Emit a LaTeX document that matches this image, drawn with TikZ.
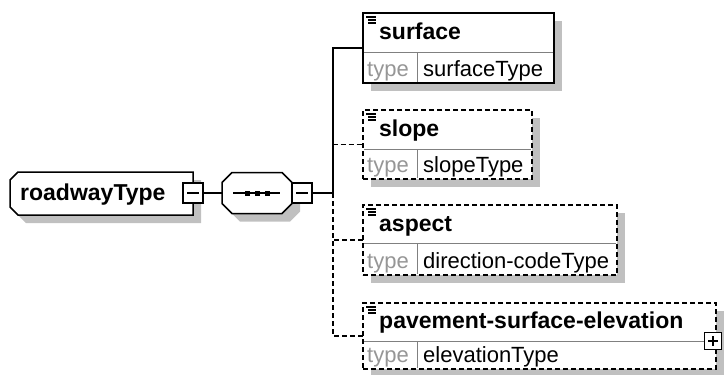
\documentclass[tikz,border=0pt]{standalone}
\usepackage{fontspec}
\setmainfont{Liberation Sans}
\usetikzlibrary{shadows,positioning}
\definecolor{shadowgray}{RGB}{192,192,192}
\definecolor{rulegray}{RGB}{128,128,128}
\definecolor{typegray}{RGB}{150,150,150}

\begin{document}
\begin{tikzpicture}[x=1pt, y=-1pt,
    boxshadow/.style={drop shadow={shadow xshift=8pt, shadow yshift=-8pt, fill=shadowgray, opacity=1}},
    elbox/.style={draw, fill=white, line width=1.5pt, inner sep=0pt, outer sep=0pt, anchor=north west, boxshadow},
    frame/.style={draw, fill=white, line width=1.5pt, boxshadow},
    anchorbox/.style={inner sep=0pt, outer sep=0pt},
    optional/.style={dash pattern=on 5pt off 3pt},
    rowline/.style={draw=rulegray, line width=1pt},
    elicon/.style={line width=1.2pt},
    elname/.style={font=\fontsize{23}{26}\selectfont\bfseries, inner sep=0pt, anchor=base west},
    typekey/.style={font=\fontsize{22}{26}\selectfont, text=typegray, inner sep=0pt, anchor=base west},
    typeval/.style={font=\fontsize{22}{26}\selectfont, inner sep=0pt, anchor=base west},
    expander/.style={draw, fill=white, line width=1.5pt, minimum size=20pt, inner sep=0pt, outer sep=0pt},
    conn/.style={line width=1.5pt}]
    \useasboundingbox (0,0) rectangle (724,375);

    % Complex type roadwayType
    \node[anchorbox, minimum width=183pt, minimum height=43pt] (rtype) at (101.5,193.5) {};
    \draw[frame] (rtype.north east) -- ([xshift=8pt]rtype.north west) -- ([yshift=-8pt]rtype.north west)
        -- ([yshift=8pt]rtype.south west) -- ([xshift=8pt]rtype.south west) -- (rtype.south east) -- cycle;
    \node[elname] (rtypename) at (20,200) {roadwayType};
    \node[expander] (rtminus) at (193,193) {};
    \draw[conn] ([xshift=-6pt]rtminus.center) -- ([xshift=6pt]rtminus.center);

    % Sequence compositor
    \node[anchorbox, minimum width=70pt, minimum height=41pt] (seq) at (257,193) {};
    \draw[frame] ([xshift=-10pt]seq.north east) -- ([xshift=10pt]seq.north west) -- ([yshift=-10pt]seq.north west)
        -- ([yshift=10pt]seq.south west) -- ([xshift=10pt]seq.south west) -- ([xshift=-10pt]seq.south east)
        -- ([yshift=10pt]seq.south east) -- ([yshift=-10pt]seq.north east) -- cycle;
    \draw[conn] ([xshift=-24pt]seq.center) -- ([xshift=23pt]seq.center);
    \foreach \dx in {-10,0,10}
        \fill ([xshift=\dx pt]seq.center) +(-2.5,-2.5) rectangle +(2.5,2.5);
    \node[expander] (seqminus) at (302,193) {};
    \draw[conn] ([xshift=-6pt]seqminus.center) -- ([xshift=6pt]seqminus.center);
    \coordinate (fork) at (333,193);

    % surface
    \node[elbox, minimum width=191pt, minimum height=70pt] (surface) at (363,13) {};
    \draw[rowline] (364,52) -- (553,52) (417,52) -- (417,82);
    \draw[elicon] (366,17) -- +(10,0) (368,20) -- +(8,0) (368,23) -- +(8,0);
    \node[elname] (surfacename) at (379,39) {surface};
    \node[typekey] (surfacekey) at (367,76) {type};
    \node[typeval] (surfaceval) at (423,76) {surfaceType};

    % slope
    \node[elbox, optional, minimum width=169pt, minimum height=69pt] (slope) at (363,110) {};
    \draw[rowline] (364,149) -- (531,149) (417,149) -- (417,178);
    \draw[elicon] (366,114) -- +(10,0) (368,117) -- +(8,0) (368,120) -- +(8,0);
    \node[elname] (slopename) at (379,136) {slope};
    \node[typekey] (slopekey) at (367,172) {type};
    \node[typeval] (slopeval) at (423,172) {slopeType};

    % aspect
    \node[elbox, optional, minimum width=254pt, minimum height=70pt] (aspect) at (363,205) {};
    \draw[rowline] (364,243) -- (616,243) (417,243) -- (417,274);
    \draw[elicon] (366,209) -- +(10,0) (368,212) -- +(8,0) (368,215) -- +(8,0);
    \node[elname] (aspectname) at (379,231) {aspect};
    \node[typekey] (aspectkey) at (367,268) {type};
    \node[typeval] (aspectval) at (423,268) {direction-codeType};

    % pavement-surface-elevation
    \node[elbox, optional, minimum width=353pt, minimum height=66pt] (pavement) at (363,303) {};
    \draw[rowline] (364,341) -- (715,341) (417,341) -- (417,368);
    \draw[elicon] (366,307) -- +(10,0) (368,310) -- +(8,0) (368,313) -- +(8,0);
    \node[elname] (pavementname) at (379,328) {pavement-surface-elevation};
    \node[typekey] (pavementkey) at (367,362) {type};
    \node[typeval] (pavementval) at (423,362) {elevationType};
    \node[expander, minimum size=17pt] (pavplus) at (713,341) {};
    \draw[conn] ([xshift=-5pt]pavplus.center) -- ([xshift=5pt]pavplus.center)
        ([yshift=-5pt]pavplus.center) -- ([yshift=5pt]pavplus.center);

    % Connectors
    \draw[conn] (rtminus.east) -- (seq.west);
    \draw[conn] (seqminus.east) -- (fork);
    \draw[conn, optional] (fork) |- (slope.west);
    \draw[conn, optional] (fork) |- (aspect.west);
    \draw[conn, optional] (fork) |- (pavement.west);
    \draw[conn] (fork) |- (surface.west);
\end{tikzpicture}
\end{document}
